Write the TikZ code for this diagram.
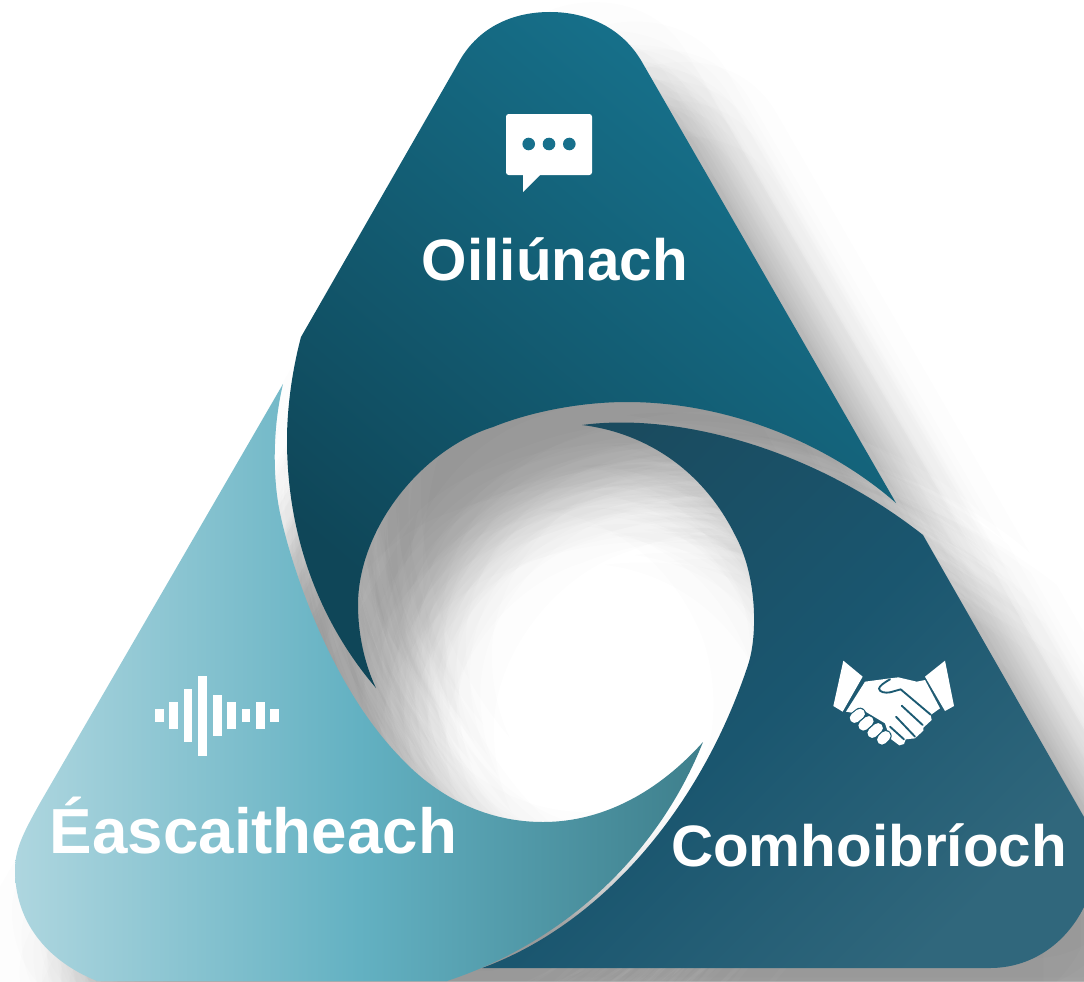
\documentclass[tikz,border=0pt]{standalone}
\usepackage{fontspec}
\setmainfont{Liberation Sans}
\definecolor{topA}{HTML}{17748F}
\definecolor{topB}{HTML}{0F4658}
\definecolor{rgtA}{HTML}{1A4B5F}
\definecolor{rgtB}{HTML}{1A566F}
\definecolor{rgtC}{HTML}{30677C}
\definecolor{lftA}{HTML}{AED6DF}
\definecolor{lftB}{HTML}{63B1C2}
\definecolor{lftC}{HTML}{3E7F8C}
\definecolor{dotc}{HTML}{17708C}
\definecolor{hand}{HTML}{1B5A72}
\def\toppath{(460,60) .. controls (479,27.5) and (512,12) .. (550,12) .. controls (587,12) and (622,27.5) .. (642,62) -- (896,503)
 .. controls (830,445) and (730,402) .. (627,402) .. controls (580,402) and (530,412) .. (493,427)
 .. controls (420,450) and (358,530) .. (358,605) .. controls (358,635) and (365,665) .. (376,688)
 .. controls (322,625) and (287,540) .. (287,440) .. controls (287,405) and (293,367) .. (301,337) -- cycle}
\def\rightpath{(582,425) .. controls (680,412) and (815,450) .. (923,535) -- (1084,817) -- (1084,907)
 .. controls (1065,945) and (1030,968) .. (990,968) -- (482,968) .. controls (600,925) and (700,810) .. (748,665)
 .. controls (758,635) and (757,575) .. (735,535) .. controls (700,465) and (640,432) .. (582,425) -- cycle}
\def\leftpath{(283,384) .. controls (272,430) and (273,480) .. (280,513) .. controls (294,579) and (335,690) .. (400,757)
 .. controls (440,800) and (490,822) .. (543,822) .. controls (605,822) and (660,790) .. (703,742)
 .. controls (660,850) and (570,940) .. (447,981) -- (97,981) .. controls (45,960) and (15,920) .. (15,870)
 .. controls (15,850) and (22,835) .. (40,803) -- cycle}
\tikzset{
  label text/.style={text=white,font=\bfseries,inner sep=0pt,anchor=base},
  bar/.style={fill=white,draw=none},
  hand line/.style={draw=hand,line width=1.4pt,line cap=round,line join=round},
}
\begin{document}
\begin{tikzpicture}[x=.75pt,y=-.75pt]
\useasboundingbox (0,0) rectangle (1084,981);
\clip (0,0) rectangle (1084,981);
\fill[white] (0,0) rectangle (1084,981);
% blurred shadow of the whole figure: gaussian spread of offset copies
\foreach \k in {0,...,51}{
  \pgfmathsetmacro{\rr}{34*sqrt(-2*ln(1-(\k+.5)/52))}
  \pgfmathsetmacro{\aa}{\k*137.508}
  \pgfmathsetmacro{\dx}{62+\rr*cos(\aa)}
  \pgfmathsetmacro{\dy}{72+\rr*sin(\aa)}
  \fill[black,opacity=.0075,shift={(\dx,\dy)}] \toppath \rightpath \leftpath;
}
% the three blades
\path[top color=topA,bottom color=topB,shading angle=-40] \toppath;
\path[top color=rgtA,bottom color=rgtC,middle color=rgtB,shading angle=45] \rightpath;
\path[left color=lftA,right color=lftC,middle color=lftB] \leftpath;
% labels
\node[label text,font=\bfseries\fontsize{43.8pt}{50pt}\selectfont] (oil) at (555,280) {Oiliúnach};
\node[label text,font=\bfseries\fontsize{47.8pt}{54pt}\selectfont] (eas) at (253.5,853) {Éascaitheach};
\node[label text,font=\bfseries\fontsize{43.8pt}{50pt}\selectfont] (com) at (869,866.5) {Comhoibríoch};
% speech bubble
\fill[white,rounded corners=2pt] (506,114) rectangle (592,175);
\fill[white] (523,172) -- (523,192) -- (541,174) -- cycle;
\foreach \x in {528.7,549,569.3}{\fill[dotc] (\x,144) circle[radius=6.3];}
% waveform
\fill[bar] (155,709) rectangle (163.7,722.3);
\fill[bar] (169,702) rectangle (177.7,729);
\fill[bar] (184,689) rectangle (192.3,742.3);
\fill[bar] (198.3,675.7) rectangle (207,756);
\fill[bar] (213,695) rectangle (222,736);
\fill[bar] (227.3,702) rectangle (236,729);
\fill[bar] (241.7,709) rectangle (250.3,722.3);
\fill[bar] (256,702) rectangle (264.7,729);
\fill[bar] (270.3,709) rectangle (279,722.3);
% handshake
\begin{scope}[shift={(810,640)},x=.25pt,y=-.25pt]
  \fill[white] (100,62) -- (158,110) -- (98,215) -- (70,198) -- cycle;
  \fill[white] (405,62) -- (345,110) -- (405,213) -- (432,198) -- cycle;
  \fill[white] (165,125) -- (240,115) -- (265,112) -- (320,125) -- (345,120) -- (390,205) -- (362,225)
    -- (365,240) -- (340,263) -- (340,272) -- (315,295) -- (287,298) -- (282,312) -- (268,316)
    -- (240,295) -- (225,250) -- (150,205) -- (125,218) -- (108,215) -- cycle;
  \foreach \a/\b/\c/\d in {134/234/150/221,160/257/176/243,187/279/204/264,216/299/227/288}{
    \draw[hand,line width=9pt,line cap=round] (\a,\b) -- (\c,\d);
    \draw[white,line width=7.4pt,line cap=round] (\a,\b) -- (\c,\d);
  }
  \draw[hand line] (240,118) .. controls (222,128) and (208,138) .. (207,146) .. controls (208,156) and (225,160) .. (240,157) -- (272,148) -- (362,224);
  \draw[hand line] (275,197) -- (338,255);
  \draw[hand line] (258,230) -- (315,290);
  \draw[hand line] (240,260) -- (282,298);
\end{scope}
\end{tikzpicture}
\end{document}
